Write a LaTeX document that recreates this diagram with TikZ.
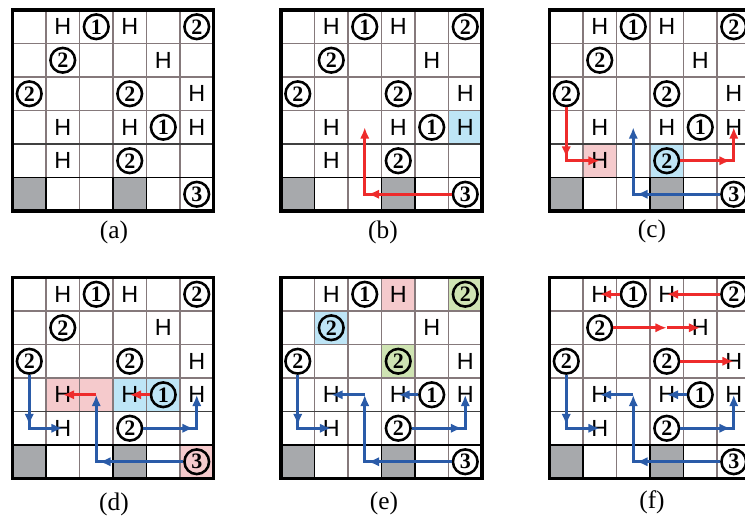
\documentclass[tikz,border=0pt]{standalone}
\usepackage{fontspec}
\setmainfont{Liberation Serif}
\setsansfont{Liberation Sans}
\usetikzlibrary{arrows.meta}
\definecolor{cred}{HTML}{EE2B2B}
\definecolor{cblue}{HTML}{2A5BA8}
\definecolor{cpink}{HTML}{F5CACC}
\definecolor{clblue}{HTML}{BEE5F6}
\definecolor{cgreen}{HTML}{CFE4B3}
\definecolor{cgray}{HTML}{A7A9AC}
\definecolor{cline}{HTML}{85797B}
\tikzset{
  num/.style={circle, draw=black, line width=1.9pt, minimum size=18.5pt, inner sep=0pt,
    font=\fontsize{16.5}{16.5}\selectfont\bfseries},
  hh/.style={inner sep=0pt, font=\sffamily\fontsize{17.5}{17.5}\selectfont},
  arr/.style={line width=2.1pt, -{Latex[length=8.5pt,width=7pt]}},
  midarr/.style={arr, shorten >=2.2pt},
  thin line/.style={cline, line width=0.9pt},
  caption/.style={font=\fontsize{19}{19}\selectfont, inner sep=0pt},
}
\newcommand\mygrid[4]{%
  \begin{scope}[shift={(#2,#3)}]
    \foreach \rr in {1,...,6}{\foreach \cc in {1,...,6}{
      \coordinate (#1-\rr-\cc) at ({(\cc-0.5)*33.5},{(\rr-0.5)*33.5});}}
    \foreach \rr/\cc/\col in {6/1/cgray,6/4/cgray,#4}{
      \fill[\col] ({(\cc-1)*33.5},{(\rr-1)*33.5}) rectangle ++(33.5,33.5);}
    \foreach \i in {1,...,5}{
      \draw[thin line] ({\i*33.5},0) -- ++(0,201);
      \draw[thin line] (0,{\i*33.5}) -- ++(201,0);}
    \draw[black!75, line width=0.9pt] (0,134) -- (201,134);
    \draw[black, line width=0.9pt] (0,167.5) rectangle (33.5,201);
    \draw[black, line width=0.9pt] (100.5,167.5) rectangle (134,201);
    \draw[black, line width=1.4pt] (0,167.5) -- (201,167.5);
    \draw[black, line width=2.5pt] (0,0) rectangle (201,201);
    \foreach \rr/\cc/\n in {1/3/1,1/6/2,2/2/2,3/1/2,3/4/2,4/5/1,5/4/2,6/6/3}{
      \node[num] (#1-n\rr\cc) at (#1-\rr-\cc) {\n};}
    \foreach \rr/\cc in {1/2,1/4,2/5,3/6,4/2,4/4,4/6,5/2}{
      \node[hh] (#1-h\rr\cc) at (#1-\rr-\cc) {H};}
  \end{scope}}
\begin{document}
\begin{tikzpicture}[x=0.75pt,y=-0.75pt]
\useasboundingbox (0,0) rectangle (745,518);
\clip (0,0) rectangle (745,518);
\fill[white] (0,0) rectangle (745,518);
% grids
\mygrid{a}{12.5}{10}{6/1/cgray}
\mygrid{b}{281}{10}{4/6/clblue}
\mygrid{c}{549.5}{10}{5/2/cpink,5/4/clblue}
\mygrid{d}{12.5}{277.5}{4/2/cpink,4/3/cpink,4/4/clblue,4/5/clblue,6/6/cpink}
\mygrid{e}{281}{277.5}{1/4/cpink,1/6/cgreen,2/2/clblue,3/4/cgreen}
\mygrid{f}{549.5}{277.5}{6/1/cgray}
% captions
\node[caption] (capa) at (114,232) {(a)};
\node[caption] (capb) at (383,232) {(b)};
\node[caption] (capc) at (652,231) {(c)};
\node[caption] (capd) at (114,504) {(d)};
\node[caption] (cape) at (384,503) {(e)};
\node[caption] (capf) at (652,502) {(f)};
% (b)
\draw[arr, cred] (b-n66.west) -- (b-6-3) -- (b-4-3);
\draw[midarr, cred] (b-n66.west) -- (b-6-3);
% (c)
\draw[arr, cred] (c-n31.south) -- (c-5-1) -- (c-h52.center);
\draw[midarr, cred] (c-n31.south) -- (c-5-1);
\draw[arr, cred] (c-n54.east) -- (c-5-6) -- (c-h46.center);
\draw[midarr, cred] (c-n54.east) -- (c-5-6);
\draw[arr, cblue] (c-n66.west) -- (c-6-3) -- (c-4-3);
\draw[midarr, cblue] (c-n66.west) -- (c-6-3);
% (d)
\draw[arr, cblue] (d-n31.south) -- (d-5-1) -- (d-h52.center);
\draw[midarr, cblue] (d-n31.south) -- (d-5-1);
\draw[arr, cblue] (d-n54.east) -- (d-5-6) -- (d-h46.center);
\draw[midarr, cblue] (d-n54.east) -- (d-5-6);
\draw[arr, cblue] (d-n66.west) -- (d-6-3) -- (d-4-3);
\draw[midarr, cblue] (d-n66.west) -- (d-6-3);
\draw[arr, cred] (d-4-3) -- (d-h42.center);
\draw[arr, cred] (d-n45.west) -- (d-h44.center);
% (e)
\draw[arr, cblue] (e-n31.south) -- (e-5-1) -- (e-h52.center);
\draw[midarr, cblue] (e-n31.south) -- (e-5-1);
\draw[arr, cblue] (e-n54.east) -- (e-5-6) -- (e-h46.center);
\draw[midarr, cblue] (e-n54.east) -- (e-5-6);
\draw[arr, cblue] (e-n66.west) -- (e-6-3) -- (e-4-3);
\draw[midarr, cblue] (e-n66.west) -- (e-6-3);
\draw[arr, cblue] (e-4-3) -- (e-h42.center);
\draw[arr, cblue] (e-n45.west) -- (e-h44.center);
% (f)
\draw[arr, cblue] (f-n31.south) -- (f-5-1) -- (f-h52.center);
\draw[midarr, cblue] (f-n31.south) -- (f-5-1);
\draw[arr, cblue] (f-n54.east) -- (f-5-6) -- (f-h46.center);
\draw[midarr, cblue] (f-n54.east) -- (f-5-6);
\draw[arr, cblue] (f-n66.west) -- (f-6-3) -- (f-4-3);
\draw[midarr, cblue] (f-n66.west) -- (f-6-3);
\draw[arr, cblue] (f-4-3) -- (f-h42.center);
\draw[arr, cblue] (f-n45.west) -- (f-h44.center);
\draw[arr, cred] (f-n13.west) -- (f-h12.center);
\draw[arr, cred] (f-n16.west) -- (f-h14.center);
\draw[arr, cred] (f-n22.east) -- (f-2-4);
\draw[arr, cred] (f-2-4) -- (f-h25.center);
\draw[arr, cred] (f-n34.east) -- (f-h36.center);
\end{tikzpicture}
\end{document}
